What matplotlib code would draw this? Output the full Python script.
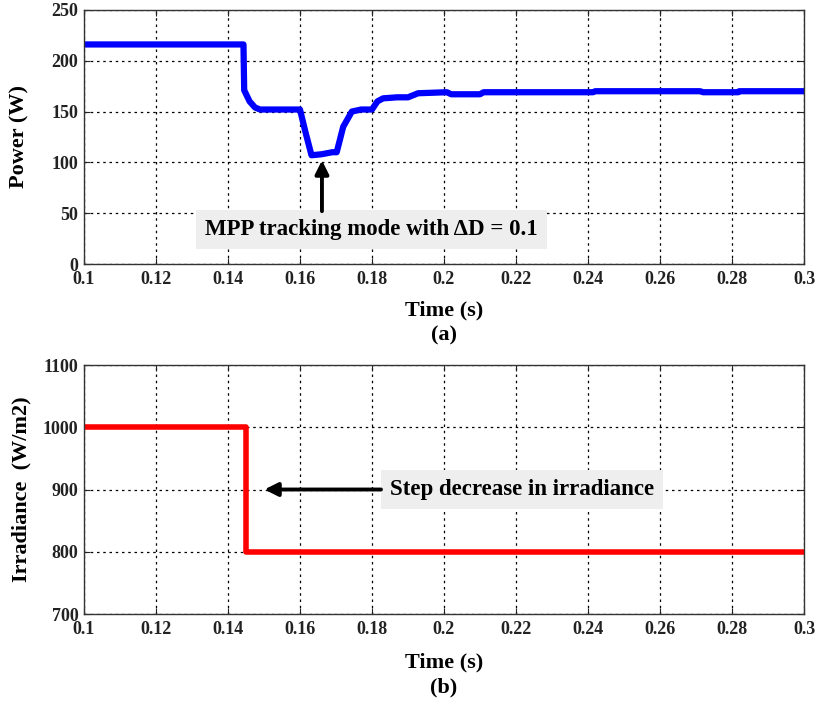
import matplotlib
matplotlib.use("Agg")
import matplotlib.pyplot as plt

# ---- data ----
t_power = [0.100, 0.1443, 0.1445, 0.1460, 0.1475, 0.1489, 0.1520, 0.1600, 0.1615,
           0.1632, 0.1660, 0.1690, 0.1702, 0.1720, 0.1744, 0.1770, 0.1800, 0.1815,
           0.1831, 0.1870, 0.1900, 0.1928, 0.2008, 0.2020, 0.2100, 0.2110, 0.2414,
           0.2420, 0.2711, 0.2720, 0.2817, 0.2820, 0.300]
power = [216, 216, 171, 160, 154, 152, 152, 152, 130,
         107, 108, 110, 110, 135, 150, 152, 152, 160,
         163, 164, 164, 168, 169, 167, 167, 169, 169,
         170, 170, 169, 169, 170, 170]

t_irr = [0.100, 0.145, 0.145, 0.300]
irradiance = [1000, 1000, 800, 800]

xticks = [0.1, 0.12, 0.14, 0.16, 0.18, 0.2, 0.22, 0.24, 0.26, 0.28, 0.3]
xtick_labels = ["0.1", "0.12", "0.14", "0.16", "0.18", "0.2", "0.22", "0.24", "0.26", "0.28", "0.3"]
power_ticks = [0, 50, 100, 150, 200, 250]
irr_ticks = [700, 800, 900, 1000, 1100]

plt.rcParams['font.family'] = ['Liberation Serif', 'DejaVu Serif']
plt.rcParams['font.weight'] = 'bold'

fig = plt.figure(figsize=(8.17, 7.06), dpi=100)
ax1 = fig.add_axes([0.1028, 0.626, 0.8813, 0.36])
ax2 = fig.add_axes([0.1028, 0.1303, 0.8813, 0.3527])

for ax in (ax1, ax2):
    ax.set_xlim(0.1, 0.3)
    ax.set_xticks(xticks)
    ax.set_xticklabels(xtick_labels)
    ax.grid(True, color='black', linestyle=(0, (2, 3)), linewidth=0.9)
    ax.tick_params(direction='in', top=True, right=True, labelsize=13, length=4,
                   colors='#222222')
    ax.tick_params(axis='x', pad=5)
    ax.tick_params(axis='y', pad=4)
    for lbl in ax.get_xticklabels() + ax.get_yticklabels():
        lbl.set_fontweight('bold')
    for s in ax.spines.values():
        s.set_color('#333333')
        s.set_linewidth(1.0)

ax1.plot(t_power, power, color='#0000ff', linewidth=4.5, solid_joinstyle='round')
ax1.set_ylim(0, 250)
ax1.set_yticks(power_ticks)
ax1.set_ylabel('Power (W)', fontsize=16, fontweight='bold')
ax1.yaxis.set_label_coords(-0.076, 0.5)
ax1.set_xlabel('Time (s)', fontsize=16, fontweight='bold')
ax1.xaxis.set_label_coords(0.5, -0.142)
ax1.text(0.5, -0.283, '(a)', transform=ax1.transAxes, ha='center', va='center',
         fontsize=16, fontweight='bold')
ax1.text(0.1798, 34, 'MPP tracking mode with \u0394D = 0.1',
         ha='center', va='center', fontsize=16.5, fontweight='bold',
         bbox=dict(boxstyle='square,pad=0.4', facecolor='#eeeeee', edgecolor='none'))
ax1.annotate('', xy=(0.1661, 102), xytext=(0.1661, 52),
             arrowprops=dict(arrowstyle='-|>', color='black', lw=2.8, mutation_scale=20,
                             shrinkA=0, shrinkB=0))

ax2.plot(t_irr, irradiance, color='#ff0000', linewidth=4.0)
ax2.set_ylim(700, 1100)
ax2.set_yticks(irr_ticks)
ax2.set_ylabel('Irradiance  (W/m2)', fontsize=16, fontweight='bold')
ax2.yaxis.set_label_coords(-0.073, 0.5)
ax2.set_xlabel('Time (s)', fontsize=16, fontweight='bold')
ax2.xaxis.set_label_coords(0.5, -0.153)
ax2.text(0.5, -0.297, '(b)', transform=ax2.transAxes, ha='center', va='center',
         fontsize=16, fontweight='bold')
ax2.text(0.2217, 900, 'Step decrease in irradiance',
         ha='center', va='center', fontsize=16.5, fontweight='bold',
         bbox=dict(boxstyle='square,pad=0.4', facecolor='#eeeeee', edgecolor='none'))
ax2.annotate('', xy=(0.1501, 900), xytext=(0.1825, 900),
             arrowprops=dict(arrowstyle='-|>', color='black', lw=2.8, mutation_scale=20,
                             shrinkA=0, shrinkB=0))

fig.savefig('out.png', dpi=100)
